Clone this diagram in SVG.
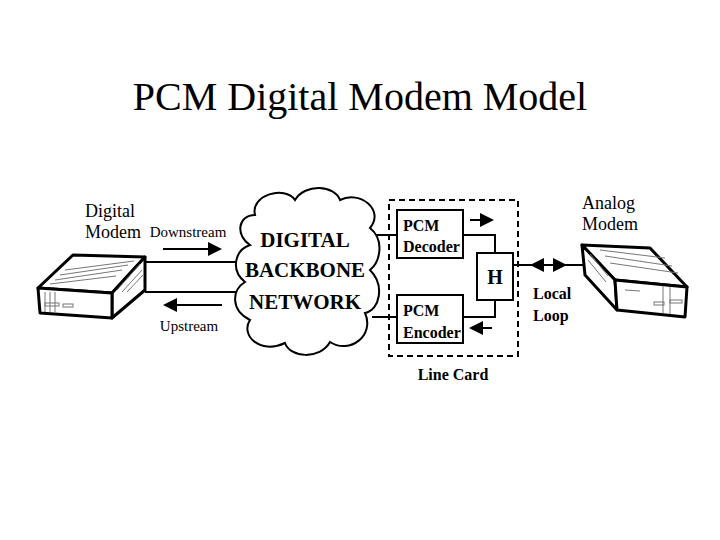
<svg xmlns="http://www.w3.org/2000/svg" width="720" height="540" viewBox="0 0 720 540">
<defs>
<style>
.ser{font-family:'Liberation Serif','Times New Roman',Times,serif;fill:#000}
.b{font-weight:bold}
.ln{stroke:#000;stroke-width:2;fill:none}
.bx{stroke:#000;stroke-width:2;fill:#fff}
.face{stroke:#000;stroke-width:3;fill:#fff;stroke-linejoin:round}
.st{stroke:#777;stroke-width:1}
.hd{fill:#000}
</style>
</defs>
<rect width="720" height="540" fill="#fff"/>
<text class="ser" x="360" y="110" font-size="40" text-anchor="middle">PCM Digital Modem Model</text>

<g id="connectors">
<line class="ln" x1="145" y1="262" x2="240" y2="262"/>
<line class="ln" x1="145" y1="292" x2="240" y2="292"/>
<line class="ln" x1="163" y1="249" x2="210" y2="249" stroke-width="3"/>
<polygon class="hd" points="208,242 222,249 208,256"/>
<line class="ln" x1="222" y1="305" x2="175" y2="305" stroke-width="3"/>
<polygon class="hd" points="177,298 163,305 177,312"/>
<line class="ln" x1="372" y1="235" x2="397" y2="235"/>
<line class="ln" x1="372" y1="317" x2="397" y2="317"/>
<polyline class="ln" points="463,235 495,235 495,253"/>
<polyline class="ln" points="463,317 495,317 495,300"/>
<line class="ln" x1="470" y1="220" x2="482" y2="220" stroke-width="3"/>
<polygon class="hd" points="480,213 494,220 480,227"/>
<line class="ln" x1="492" y1="328" x2="481" y2="328" stroke-width="3"/>
<polygon class="hd" points="483,321 469,328 483,335"/>
<line class="ln" x1="513" y1="265" x2="585" y2="265"/>
<line class="ln" x1="540" y1="265" x2="557" y2="265" stroke-width="3"/>
<polygon class="hd" points="544,258 530,265 544,272"/>
<polygon class="hd" points="553,258 567,265 553,272"/>
</g>

<g id="digital-modem">
<polygon class="face" points="38,288 73,255 145,257 112,293"/>
<polygon class="face" points="112,293 145,257 145,290 112,318"/>
<polygon class="face" points="38,288 112,293 112,318 40,313"/>
<g class="st"><line x1="55" y1="280" x2="122" y2="270"/><line x1="60" y1="275" x2="128" y2="265"/><line x1="65" y1="270" x2="134" y2="261"/><line x1="50" y1="284" x2="116" y2="276"/><line x1="117" y1="290" x2="140" y2="264"/><line x1="122" y1="292" x2="142" y2="270"/><line x1="127" y1="292" x2="143" y2="275"/></g>
<g class="st"><line x1="45" y1="292" x2="45" y2="312"/><line x1="50" y1="292" x2="50" y2="312"/><line x1="55" y1="292" x2="55" y2="312"/><rect x="45" y="303" width="14" height="3" fill="none"/><rect x="63" y="304" width="10" height="3" fill="none"/></g>
<text class="ser" x="85" y="217" font-size="18">Digital</text>
<text class="ser" x="85" y="238" font-size="18">Modem</text>
</g>

<g id="labels">
<text class="ser" x="188" y="237" font-size="15" text-anchor="middle">Downstream</text>
<text class="ser" x="189" y="331" font-size="15" text-anchor="middle">Upstream</text>
</g>

<g id="cloud">
<path class="bx" d="M255,215 C250,195 285,185 295,200 C305,183 335,185 340,200 C360,190 385,210 370,228 C385,240 380,262 370,270 C385,285 380,310 365,313 C375,335 350,355 330,342 C320,360 290,358 285,343 C260,355 240,335 250,320 C230,310 232,290 245,282 C230,270 235,250 250,245 C235,235 238,215 255,215 Z"/>
<text class="ser b" x="305" y="247" font-size="21" text-anchor="middle">DIGITAL</text>
<text class="ser b" x="305" y="277" font-size="21" text-anchor="middle">BACKBONE</text>
<text class="ser b" x="305" y="309" font-size="21" text-anchor="middle">NETWORK</text>
</g>

<g id="line-card">
<rect x="389" y="200" width="129" height="156" fill="none" stroke="#000" stroke-width="2" stroke-dasharray="6,4"/>
<text class="ser b" x="453" y="380" font-size="16" text-anchor="middle">Line Card</text>
</g>
<g id="pcm-decoder">
<rect class="bx" x="397" y="210" width="66" height="48"/>
<text class="ser b" x="403" y="231" font-size="16">PCM</text>
<text class="ser b" x="403" y="252" font-size="16">Decoder</text>
</g>
<g id="pcm-encoder">
<rect class="bx" x="397" y="295" width="66" height="48"/>
<text class="ser b" x="403" y="316" font-size="16">PCM</text>
<text class="ser b" x="403" y="338" font-size="16">Encoder</text>
</g>
<g id="hybrid">
<rect class="bx" x="477" y="253" width="36" height="47"/>
<text class="ser b" x="495" y="284" font-size="20" text-anchor="middle">H</text>
</g>
<g id="local-loop">
<text class="ser b" x="533" y="299" font-size="16">Local</text>
<text class="ser b" x="533" y="321" font-size="16">Loop</text>
</g>

<g id="analog-modem">
<polygon class="face" points="582,245 650,248 687,287 615,280"/>
<polygon class="face" points="582,245 615,280 617,310 585,275"/>
<polygon class="face" points="615,280 687,287 685,317 617,310"/>
<g class="st"><line x1="600" y1="250" x2="665" y2="258"/><line x1="605" y1="256" x2="672" y2="266"/><line x1="610" y1="263" x2="678" y2="273"/><line x1="590" y1="254" x2="608" y2="276"/><line x1="588" y1="260" x2="606" y2="282"/><line x1="663" y1="286" x2="663" y2="313"/><line x1="670" y1="287" x2="670" y2="314"/><rect x="670" y="300" width="12" height="3" fill="none"/><rect x="654" y="302" width="10" height="3" fill="none"/><line x1="625" y1="290" x2="640" y2="291"/></g>
<text class="ser" x="582" y="209" font-size="18">Analog</text>
<text class="ser" x="582" y="230" font-size="18">Modem</text>
</g>
</svg>
